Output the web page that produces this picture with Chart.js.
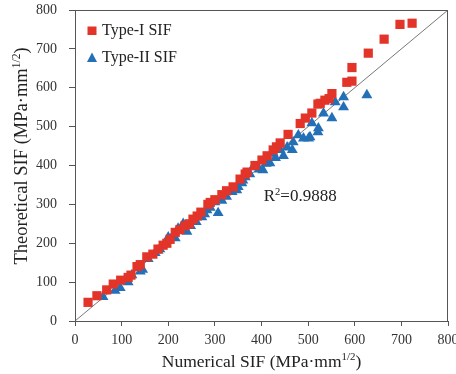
<!DOCTYPE html>
<html>
<head>
<meta charset="utf-8">
<title>SIF comparison</title>
<script src="https://cdn.jsdelivr.net/npm/chart.js@4/dist/chart.umd.min.js"></script>
<style>
    body{ margin:0; background:#fff; }
    .box{ width:456px; height:374px; }
</style>
</head>
<body>
<div class="box">
    <canvas id="myChart" width="456" height="374"></canvas>
</div>
<script>

    // numerical vs theoretical SIF
    const type1X = [28, 47, 68, 82, 98, 114, 120, 133, 140, 154, 167, 178, 189, 197, 204, 215, 225, 236, 245, 253, 262, 270, 285, 290, 300, 315, 325, 339, 354, 365, 369, 386, 401, 412, 425, 432, 440, 457, 483, 494, 508, 521, 526, 536, 545, 551, 583, 594, 594, 629, 663, 697, 723]
    const type1Y = [48, 65, 80, 95, 105, 112, 118, 140, 145, 165, 172, 185, 195, 200, 210, 228, 235, 245, 250, 262, 270, 280, 300, 305, 312, 325, 335, 345, 365, 378, 383, 400, 414, 425, 440, 448, 458, 480, 508, 522, 535, 558, 560, 568, 572, 585, 614, 617, 652, 689, 725, 763, 766]

    const type2X = [60, 86, 97, 114, 122, 140, 145, 157, 172, 178, 182, 200, 210, 215, 221, 232, 240, 248, 260, 272, 278, 283, 290, 300, 307, 315, 325, 337, 347, 350, 358, 360, 365, 375, 382, 395, 403, 410, 418, 425, 430, 440, 447, 455, 466, 468, 479, 490, 501, 504, 508, 521, 522, 533, 551, 558, 576, 576, 626]
    const type2Y = [62, 78, 85, 100, 118, 128, 132, 160, 175, 182, 185, 215, 220, 213, 238, 250, 230, 245, 255, 267, 275, 285, 292, 306, 278, 310, 320, 332, 337, 345, 355, 362, 370, 378, 396, 390, 388, 405, 406, 432, 420, 440, 425, 447, 440, 460, 478, 470, 470, 473, 509, 486, 496, 534, 522, 563, 550, 576, 581]

    const labels = ['Type-I SIF', 'Type-II SIF']
    const fitLine = [0, 800]
    const r2Text = '0.9888'

    const red = '#e3342a'
    const blue = '#2470b6'
    const serif = '"Liberation Serif", "DejaVu Serif", serif'

    function pts(xs, ys){
        const out = []
        for(let i=0; i<xs.length; i++) out.push({x: xs[i], y: ys[i]})
        return out
    }

    // text with a superscript part, centred on x
    function supText(ctx, parts, x, y, size){
        let w = 0
        parts.forEach(p => {
            ctx.font = (p.sup ? size*0.62 : size) + 'px ' + serif
            w += ctx.measureText(p.t).width
        })
        let cx = x - w/2
        parts.forEach(p => {
            ctx.font = (p.sup ? size*0.62 : size) + 'px ' + serif
            ctx.fillText(p.t, cx, p.sup ? y - size*0.38 : y)
            cx += ctx.measureText(p.t).width
        })
    }

    const extras = {
        id: 'extras',
        afterDraw(chart){
            const ctx = chart.ctx
            const a = chart.chartArea
            const sx = chart.scales.x, sy = chart.scales.y
            ctx.save()

            // frame
            ctx.strokeStyle = '#555'
            ctx.lineWidth = 1
            ctx.strokeRect(a.left + 0.5, a.top + 0.5, a.right - a.left - 1, a.bottom - a.top)

            ctx.fillStyle = '#222'
            ctx.textBaseline = 'alphabetic'
            ctx.textAlign = 'left'

            // axis titles
            supText(ctx, [{t:'Numerical SIF (MPa·mm'}, {t:'1/2', sup:true}, {t:')'}], (a.left + a.right)/2, 367, 17.5)
            ctx.save()
            ctx.translate(27, 156)
            ctx.rotate(-Math.PI/2)
            supText(ctx, [{t:'Theoretical SIF (MPa·mm'}, {t:'1/2', sup:true}, {t:')'}], 0, 0, 18.5)
            ctx.restore()

            // R squared
            supText(ctx, [{t:'R'}, {t:'2', sup:true}, {t:'=' + r2Text}], sx.getPixelForValue(483), sy.getPixelForValue(308), 17)

            // legend in the corner
            const lx = a.left + 17
            const rows = [a.top + 25, a.top + 52]
            ctx.fillStyle = red
            ctx.fillRect(lx - 4.5, rows[0] - 8.5, 9, 8.5)
            ctx.fillStyle = blue
            ctx.beginPath()
            ctx.moveTo(lx, rows[1] - 9.5)
            ctx.lineTo(lx + 5, rows[1])
            ctx.lineTo(lx - 5, rows[1])
            ctx.closePath()
            ctx.fill()
            ctx.fillStyle = '#222'
            ctx.font = '16px ' + serif
            ctx.fillText(labels[0], lx + 10, rows[0])
            ctx.fillText(labels[1], lx + 10, rows[1])

            ctx.restore()
        }
    }

    const ctx = document.getElementById('myChart')

    const chart = new Chart(ctx, {
        type: 'scatter',
        data: {
            datasets: [
                {
                    type: 'line',
                    label: 'fit',
                    data: pts(fitLine, fitLine),
                    borderColor: '#777',
                    borderWidth: 1,
                    pointRadius: 0,
                    order: 3
                },
                {
                    label: labels[1],
                    data: pts(type2X, type2Y),
                    pointStyle: 'triangle',
                    pointRadius: 6.3,
                    backgroundColor: blue,
                    borderColor: blue,
                    borderWidth: 0,
                    order: 2
                },
                {
                    label: labels[0],
                    data: pts(type1X, type1Y),
                    pointStyle: 'rect',
                    pointRadius: 6.5,
                    backgroundColor: red,
                    borderColor: red,
                    borderWidth: 0,
                    order: 1
                }
            ]
        },
        options: {
            responsive: false,
            animation: false,
            layout: { padding: { top: 10, right: 8, left: 0, bottom: 0 } },
            plugins: {
                legend: { display: false },
                tooltip: { enabled: false }
            },
            scales: {
                x: {
                    type: 'linear',
                    min: 0, max: 800,
                    ticks: { stepSize: 100, color: '#333', font: { family: serif, size: 14 }, padding: 6, maxRotation: 0 },
                    grid: { drawOnChartArea: false, tickLength: 5, color: '#555' },
                    border: { color: '#555' },
                    afterFit: s => { s.height = 53; s.paddingLeft = 0; s.paddingRight = 0 }
                },
                y: {
                    min: 0, max: 800,
                    ticks: { stepSize: 100, color: '#333', font: { family: serif, size: 14 }, padding: 12 },
                    grid: { drawOnChartArea: false, tickLength: 6, color: '#555' },
                    border: { color: '#555' },
                    afterFit: s => { s.width = 75; s.paddingTop = 0; s.paddingBottom = 0 }
                }
            }
        },
        plugins: [extras]
    })

</script>
</body>
</html>
